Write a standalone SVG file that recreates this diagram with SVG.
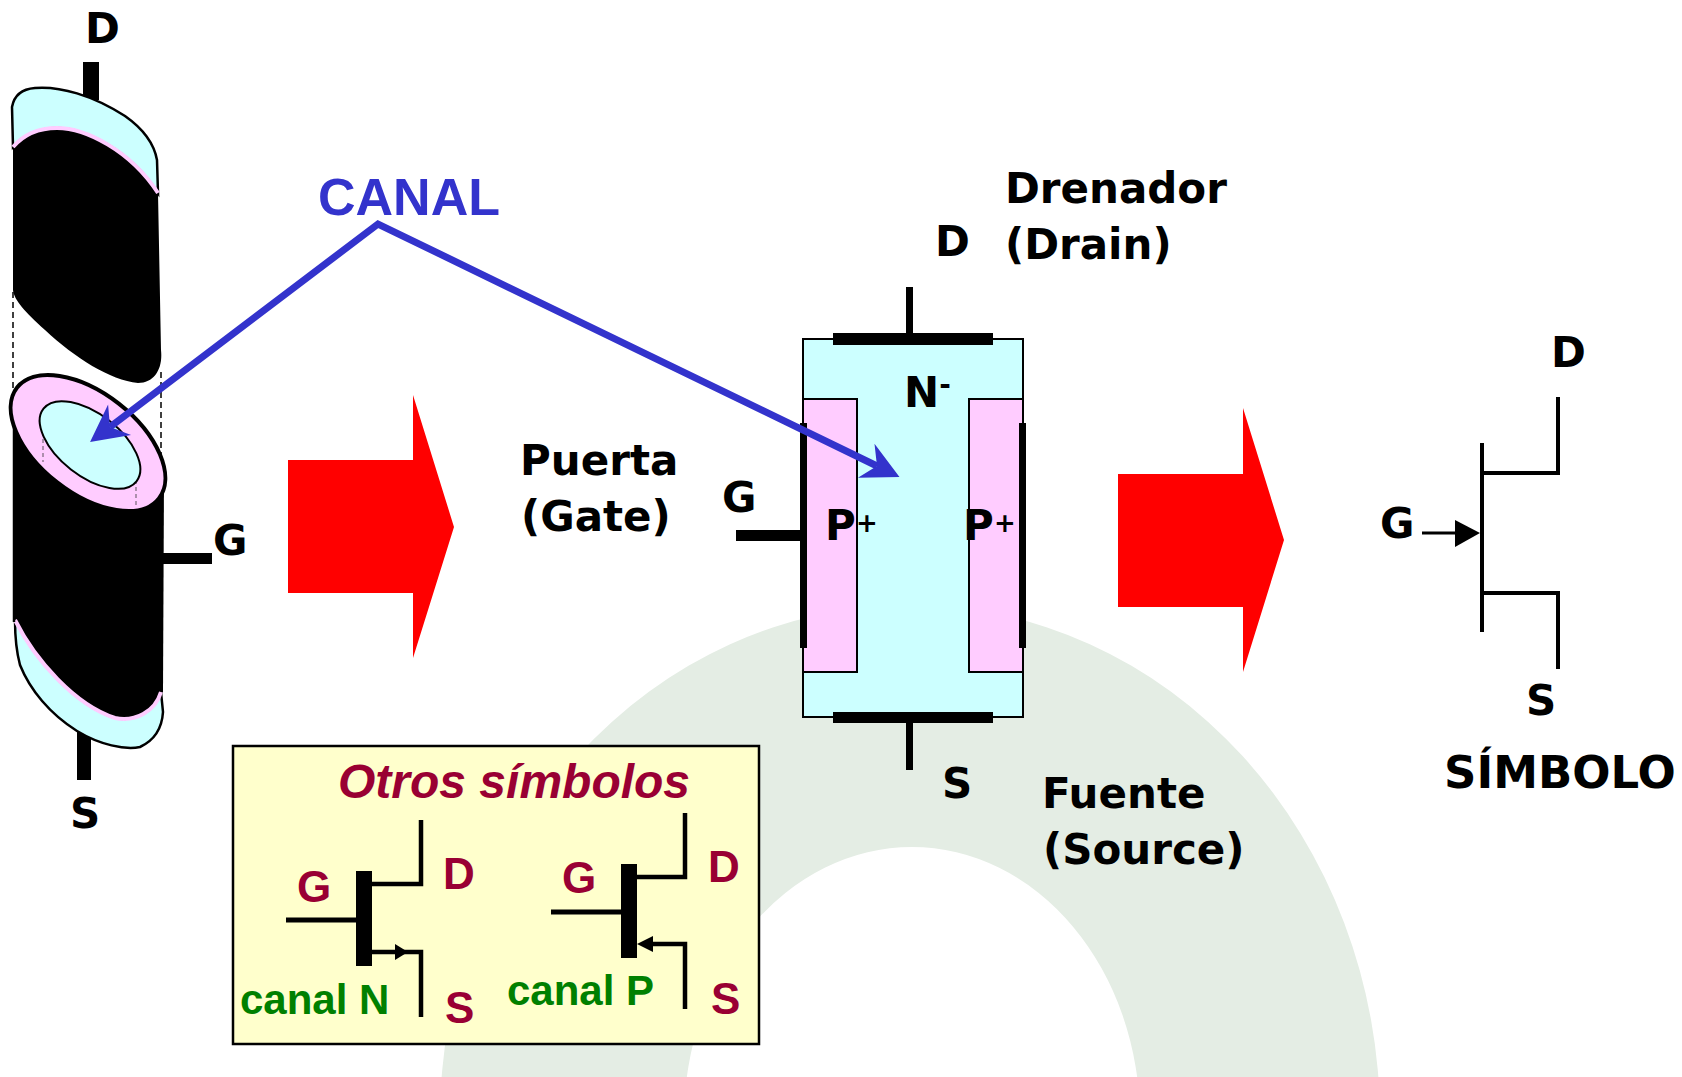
<svg xmlns="http://www.w3.org/2000/svg" width="1682" height="1077" viewBox="0 0 1682 1077">
  <style>
    .lbl { font-family: "DejaVu Sans", "Liberation Sans", sans-serif; font-weight: bold; font-size: 42px; fill: #000; }
    .sup { font-size: 26px; }
    .title { font-size: 45px; }
    .box { font-family: "Liberation Sans", Arial, sans-serif; font-weight: bold; font-size: 44px; fill: #990033; }
    .head { font-size: 48px; font-style: italic; }
    .grn { font-family: "Liberation Sans", Arial, sans-serif; font-weight: bold; font-size: 42px; fill: #008000; }
    .ln { fill: none; stroke: #000; stroke-linecap: butt; stroke-linejoin: miter; }
    .cyan { fill: #ccffff; }
    .pink { fill: #ffccff; }
  </style>
  <defs>
    <marker id="blueHead" markerUnits="userSpaceOnUse" markerWidth="60" markerHeight="60" refX="0" refY="0" orient="auto" overflow="visible">
      <path d="M25,0 L-12,-19 L0,0 L-12,19 Z" fill="#3333cc"/>
    </marker>
    <marker id="blueHeadStart" markerUnits="userSpaceOnUse" markerWidth="60" markerHeight="60" refX="0" refY="0" orient="auto-start-reverse" overflow="visible">
      <path d="M25,0 L-12,-19 L0,0 L-12,19 Z" fill="#3333cc"/>
    </marker>
  </defs>

  <rect width="1682" height="1077" fill="#ffffff"/>

  <!-- background arch -->
  <path d="M440,1120 A470,515 0 0 1 1380,1120 L1140,1120 A228,273 0 0 0 684,1120 Z" fill="#e4ede4"/>

  <!-- red transition arrows -->
  <g id="arrow-left">
    <polygon points="288,460 413,460 413,395 454,527 413,658 413,593 288,593" fill="#ff0000"/>
  </g>
  <g id="arrow-right">
    <polygon points="1118,474 1243,474 1243,408 1284,540 1243,672 1243,607 1118,607" fill="#ff0000"/>
  </g>

  <!-- cylindrical view of the JFET -->
  <g id="cylinder">
    <rect x="83" y="62" width="16" height="38" fill="#000"/>
    <rect x="77" y="730" width="14" height="50" fill="#000"/>
    <rect x="160" y="553" width="52" height="11" fill="#000"/>
    <!-- upper body -->
    <path d="M13,147 C25,133 40,128 57,128 C85,128 130,150 158,193 L161,350 C163,368 155,383 138,383 C110,380 75,358 45,330 C25,312 14,300 13,290 Z" fill="#000"/>
    <path d="M12,107 C14,96 22,89 35,88 C60,86 92,95 125,116 C142,128 154,143 157,160 L158,193 C130,150 85,128 57,128 C40,128 25,133 13,147 Z" class="cyan" stroke="#000" stroke-width="2.5"/>
    <path d="M13,147 C25,133 40,128 57,128 C85,128 130,150 158,193" fill="none" stroke="#ffccff" stroke-width="4"/>
    <!-- hidden edges -->
    <line x1="13" y1="292" x2="13" y2="410" stroke="#000" stroke-width="1.5" stroke-dasharray="6,4"/>
    <line x1="161" y1="372" x2="161" y2="455" stroke="#000" stroke-width="1.5" stroke-dasharray="6,4"/>
    <!-- lower body -->
    <path d="M14,407 L164,479 L163,692 C155,712 135,722 115,718 C75,705 35,660 15,620 Z" fill="#000"/>
    <path d="M15,620 C35,660 75,705 115,718 C135,722 155,712 161,692 L163,712 C162,728 155,740 140,747 C125,750 100,745 77,731 C50,714 30,690 20,665 C16,650 15,635 15,620 Z" class="cyan" stroke="#000" stroke-width="2.5"/>
    <path d="M15,620 C35,660 75,705 115,718 C135,722 155,712 161,692" fill="none" stroke="#ffccff" stroke-width="4"/>
    <line x1="14" y1="407" x2="14" y2="622" stroke="#000" stroke-width="2.5"/>
    <!-- cut face -->
    <ellipse cx="88" cy="443" rx="90" ry="50" transform="rotate(38 88 443)" class="pink" stroke="#000" stroke-width="4"/>
    <line x1="43" y1="425" x2="43" y2="462" stroke="#776677" stroke-width="1.2" stroke-dasharray="4,3"/>
    <line x1="136" y1="480" x2="136" y2="505" stroke="#776677" stroke-width="1.2" stroke-dasharray="4,3"/>
    <ellipse cx="90" cy="445" rx="59" ry="31" transform="rotate(38 90 445)" class="cyan" stroke="#000" stroke-width="2"/>
    <text class="lbl" x="85" y="43">D</text>
    <text class="lbl" x="213" y="555">G</text>
    <text class="lbl" x="70" y="828">S</text>
  </g>

  <!-- cross-section of the JFET -->
  <g id="jfet-section">
    <rect x="803" y="339" width="220" height="378" class="cyan" stroke="#000" stroke-width="2"/>
    <rect x="803" y="399" width="54" height="273" class="pink" stroke="#000" stroke-width="2"/>
    <rect x="969" y="399" width="54" height="273" class="pink" stroke="#000" stroke-width="2"/>
    <rect x="833" y="333" width="160" height="12" fill="#000"/>
    <rect x="833" y="712" width="160" height="11" fill="#000"/>
    <rect x="906" y="287" width="7" height="48" fill="#000"/>
    <rect x="906" y="721" width="7" height="49" fill="#000"/>
    <rect x="800" y="423" width="7" height="225" fill="#000"/>
    <rect x="1019" y="423" width="7" height="225" fill="#000"/>
    <rect x="736" y="530" width="66" height="11" fill="#000"/>
    <text class="lbl" x="904" y="407">N<tspan font-size="28" dy="-13">-</tspan></text>
    <text class="lbl" x="825" y="540">P</text>
    <text class="lbl sup" x="856" y="532">+</text>
    <text class="lbl" x="963" y="540">P</text>
    <text class="lbl sup" x="994" y="532">+</text>
    <text class="lbl" x="722" y="512">G</text>
    <text class="lbl" x="935" y="256">D</text>
    <text class="lbl" x="942" y="798">S</text>
  </g>

  <g id="label-drain">
    <text class="lbl" x="1005" y="203">Drenador</text>
    <text class="lbl" x="1005" y="259">(Drain)</text>
  </g>
  <g id="label-gate">
    <text class="lbl" x="520" y="475">Puerta</text>
    <text class="lbl" x="521" y="531">(Gate)</text>
  </g>
  <g id="label-source">
    <text class="lbl" x="1042" y="808">Fuente</text>
    <text class="lbl" x="1043" y="864">(Source)</text>
  </g>

  <!-- circuit symbol -->
  <g id="symbol">
    <path class="ln" d="M1558,397 V473 H1482" stroke-width="4"/>
    <path class="ln" d="M1482,443 V632" stroke-width="4"/>
    <path class="ln" d="M1482,593 H1558 V669" stroke-width="4"/>
    <line x1="1422" y1="533" x2="1458" y2="533" stroke="#000" stroke-width="3"/>
    <polygon points="1455,520 1480,533 1455,547" fill="#000"/>
    <text class="lbl" x="1551" y="367">D</text>
    <text class="lbl" x="1380" y="538">G</text>
    <text class="lbl" x="1526" y="715">S</text>
    <text class="lbl title" x="1444" y="788">SÍMBOLO</text>
  </g>

  <!-- alternative symbols -->
  <g id="other-symbols">
    <rect x="233" y="746" width="526" height="298" fill="#ffffcc" stroke="#000" stroke-width="2.5"/>
    <text class="box head" x="338" y="798">Otros símbolos</text>
    <!-- N channel -->
    <path class="ln" d="M286,920 H358" stroke-width="5"/>
    <rect x="356" y="871" width="16" height="95" fill="#000"/>
    <path class="ln" d="M370,884 H421 V820" stroke-width="4.5"/>
    <path class="ln" d="M370,952 H421 V1017" stroke-width="4.5"/>
    <polygon points="395,944 408,952 395,960" fill="#000"/>
    <text class="box" x="297" y="902">G</text>
    <text class="box" x="443" y="889">D</text>
    <text class="box" x="445" y="1023">S</text>
    <text class="grn" x="240" y="1014">canal N</text>
    <!-- P channel -->
    <path class="ln" d="M551,912 H623" stroke-width="5"/>
    <rect x="621" y="864" width="16" height="94" fill="#000"/>
    <path class="ln" d="M635,877 H685 V813" stroke-width="4.5"/>
    <path class="ln" d="M650,944 H685 V1009" stroke-width="4.5"/>
    <polygon points="653,936 637,944 653,952" fill="#000"/>
    <text class="box" x="562" y="893">G</text>
    <text class="box" x="708" y="882">D</text>
    <text class="box" x="711" y="1014">S</text>
    <text class="grn" x="507" y="1005">canal P</text>
  </g>

  <!-- channel callout -->
  <g id="canal-label">
    <text x="318" y="215" font-family="'Liberation Sans', Arial, sans-serif" font-weight="bold" font-size="52" fill="#3333cc">CANAL</text>
  </g>
  <g id="connectors">
    <path d="M110,427 L378,224 L877,466" fill="none" stroke="#3333cc" stroke-width="7" stroke-linejoin="miter" marker-start="url(#blueHeadStart)" marker-end="url(#blueHead)"/>
  </g>
</svg>
